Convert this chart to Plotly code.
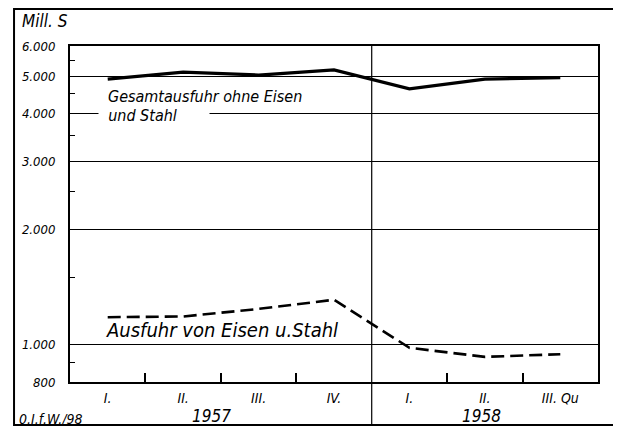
import plotly.graph_objects as go

# quarters, 1957 I. - 1958 III.
quarters = ["I.", "II.", "III.", "IV.", "I.", "II.", "III. Qu"]
years = ["1957", "1958"]

# Mill. S, ratio scale
gesamt_ohne_eisen = [4920, 5130, 5040, 5200, 4640, 4920, 4960]
eisen_stahl = [1180, 1185, 1240, 1310, 982, 930, 945]

ytick_vals = [800, 1000, 2000, 3000, 4000, 5000, 6000]
ytick_text = ["800", "1.000", "2.000", "3.000", "4.000", "5.000", "6.000"]
yminor_vals = [900, 1500, 2500, 3500, 4500, 5500]

font = dict(family="DejaVu Sans Condensed, DejaVu Sans", color="black", style="italic")
xs = list(range(len(quarters)))

fig = go.Figure()
fig.add_trace(go.Scatter(x=xs, y=gesamt_ohne_eisen, mode="lines",
                         line=dict(color="black", width=3.2)))
fig.add_trace(go.Scatter(x=xs, y=eisen_stahl, mode="lines",
                         line=dict(color="black", width=2.6, dash="13px,6px")))

# the page puts the figure 8px in from the corner, so it is drawn 8px smaller
fig.update_layout(
    width=613, height=420,
    margin=dict(l=62, r=23, t=38, b=46),
    paper_bgcolor="white", plot_bgcolor="white",
    showlegend=False,
    font=dict(family="DejaVu Sans Condensed, DejaVu Sans", size=12, color="black"),
)

fig.update_xaxes(
    range=[-0.5, len(quarters) - 0.5],
    tickvals=xs, ticktext=quarters, ticks="",
    tickfont=dict(size=14, **font), ticklabelstandoff=2,
    showgrid=False, zeroline=False, automargin=False,
    showline=True, linecolor="black", linewidth=2, mirror=True,
    minor=dict(tickvals=[0.5, 1.5, 2.5, 4.5, 5.5], ticks="inside",
               ticklen=9, tickcolor="black", tickwidth=1.5, showgrid=False),
)
fig.update_yaxes(
    type="log",
    range=[2.90309, 3.778151],
    tickvals=ytick_vals, ticktext=ytick_text,
    ticks="", ticklabelstandoff=10,
    tickfont=dict(size=13, **font),
    showgrid=True, gridcolor="black", gridwidth=1,
    zeroline=False, automargin=False,
    showline=True, linecolor="black", linewidth=2, mirror=True,
    minor=dict(tickvals=yminor_vals, ticks="inside", ticklen=5,
               tickcolor="black", tickwidth=1.2, showgrid=False),
)

# year divider and outer frame
fig.add_shape(type="line", xref="x", yref="paper", x0=3.5, x1=3.5,
              y0=-0.128, y1=1, line=dict(color="black", width=1.2))
fig.add_shape(type="rect", xref="paper", yref="paper",
              x0=-0.106, x1=1.032, y0=-0.128, y1=1.11,
              line=dict(color="black", width=2))

def label(text, x, y, size, xref="x", **kw):
    fig.add_annotation(x=x, y=y, xref=xref, yref="paper", text=text,
                       showarrow=False, yanchor="middle",
                       font=dict(size=size, **font), **kw)

label("\u00a0\u00a0und Stahl\u00a0\u00a0\u00a0\u00a0\u00a0\u00a0\u00a0", -0.13, 0.792, 16,
      xanchor="left", bgcolor="white", borderpad=0)
label("Gesamtausfuhr ohne Eisen", -0.02, 0.85, 16, xanchor="left")
label("Mill. S", -0.094, 1.075, 17, xref="paper", xanchor="left")
label("Ausfuhr von Eisen u.Stahl", -0.05, 0.155, 20, xanchor="left")
label(years[0], 1.38, -0.101, 17, xanchor="center")
label(years[1], 4.95, -0.101, 17, xanchor="center")
label("0.I.f.W./98", -0.1, -0.11, 14, xref="paper", xanchor="left")

fig.write_html("out.html")
